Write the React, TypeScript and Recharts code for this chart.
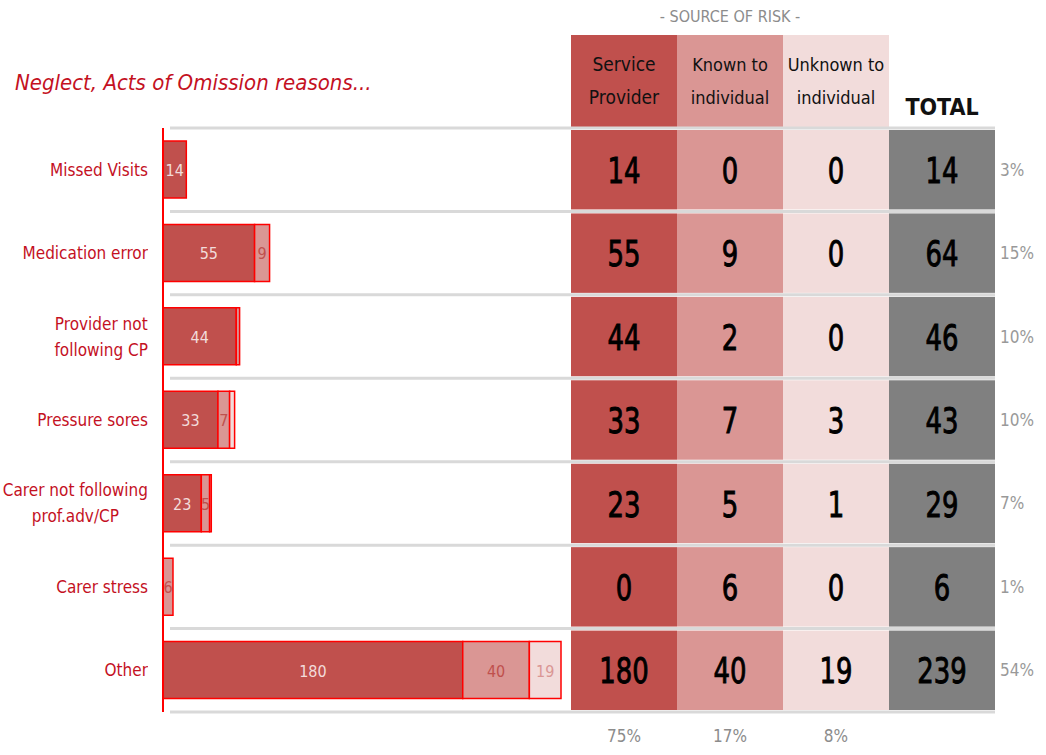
import React from "react";
import { BarChart, Bar, XAxis, YAxis, LabelList } from "recharts";

// reasons (rows)
const categories = [
  "Missed Visits",
  "Medication error",
  "Provider not\nfollowing CP",
  "Pressure sores",
  "Carer not following\nprof.adv/CP",
  "Carer stress",
  "Other",
];
const serviceProvider = [14, 55, 44, 33, 23, 0, 180];
const knownToIndividual = [0, 9, 2, 7, 5, 6, 40];
const unknownToIndividual = [0, 0, 0, 3, 1, 0, 19];
const rowShare = ["3%", "15%", "10%", "10%", "7%", "1%", "54%"];
const columnShare = ["75%", "17%", "8%"];
const columnHeaders = [
  ["Service", "Provider"],
  ["Known to", "individual"],
  ["Unknown to", "individual"],
];

const data = categories.map((name, i) => ({
  name,
  sp: serviceProvider[i],
  known: knownToIndividual[i],
  unknown: unknownToIndividual[i],
  total: serviceProvider[i] + knownToIndividual[i] + unknownToIndividual[i],
}));

const FONT = "'Liberation Sans Narrow', 'DejaVu Sans Condensed', sans-serif";
const DARK = "#c0504d";
const MID = "#da9694";
const LIGHT = "#f2dcdb";
const GREY = "#808080";
const RED = "#c4111f";
const SEP = "#d9d9d9";

const TOP = 128;
const BOTTOM = 712;
const BAND = (BOTTOM - TOP) / categories.length;
const COLS = [571, 677, 783, 889, 995];
const cellFills = [DARK, MID, LIGHT, GREY];

const CategoryTick = (props: any) => {
  const { y, payload } = props;
  const lines = String(payload.value).split("\n");
  return (
    <foreignObject x={0} y={y - 40} width={148} height={80}>
      <div
        style={{
          height: 80,
          display: "flex",
          alignItems: "center",
          justifyContent: "flex-end",
          fontFamily: FONT,
          fontSize: 17,
          lineHeight: "26px",
          color: RED,
        }}
      >
        <div style={{ textAlign: "center" }}>
          {lines.map((l, i) => (
            <div key={i}>{l}</div>
          ))}
        </div>
      </div>
    </foreignObject>
  );
};

const RowTick = (props: any) => {
  const { y, index } = props;
  const row = data[index];
  if (!row) return null;
  const vals = [row.sp, row.known, row.unknown, row.total];
  const top = y - BAND / 2;
  return (
    <g>
      {vals.map((v, c) => {
        const cx = (COLS[c] + COLS[c + 1]) / 2;
        return (
          <g key={c}>
            <rect x={COLS[c]} y={top + 2} width={COLS[c + 1] - COLS[c]} height={BAND - 4} fill={cellFills[c]} />
            <text
              x={0}
              y={0}
              transform={`translate(${cx},${y + 1}) scale(0.8,1)`}
              textAnchor="middle"
              dominantBaseline="central"
              fontFamily={FONT}
              fontSize={36}
              fill="#000"
              stroke="#000"
              strokeWidth={0.9}
            >
              {v}
            </text>
          </g>
        );
      })}
      <text x={1000} y={y} dominantBaseline="central" fontFamily={FONT} fontSize={17} fill="#999">
        {rowShare[index]}
      </text>
      <line x1={170} x2={995} y1={top} y2={top} stroke={SEP} strokeWidth={3} />
      {index === categories.length - 1 && (
        <line x1={170} x2={995} y1={top + BAND} y2={top + BAND} stroke={SEP} strokeWidth={3} />
      )}
    </g>
  );
};

const barLabel = (color: string) => (props: any) => {
  const { x, y, width, height, value } = props;
  if (!value || width < 8) return null;
  return (
    <text
      x={x + width / 2}
      y={y + height / 2 + 1}
      textAnchor="middle"
      dominantBaseline="central"
      fontFamily={FONT}
      fontSize={16}
      fill={color}
    >
      {value}
    </text>
  );
};

export default function App() {
  return (
    <div style={{ position: "absolute", left: 0, top: 0, width: 1046, height: 755, background: "#fff", fontFamily: FONT }}>
      <div
        style={{
          position: "absolute",
          left: 15,
          top: 70,
          fontSize: 22,
          fontStyle: "italic",
          color: RED,
          whiteSpace: "nowrap",
        }}
      >
        Neglect, Acts of Omission reasons...
      </div>
      <div
        style={{
          position: "absolute",
          left: COLS[0],
          width: COLS[3] - COLS[0],
          top: 7,
          textAlign: "center",
          fontSize: 16,
          color: "#8c8c8c",
        }}
      >
        - SOURCE OF RISK -
      </div>
      {columnHeaders.map((h, c) => (
        <div
          key={c}
          style={{
            position: "absolute",
            left: COLS[c],
            width: COLS[c + 1] - COLS[c],
            top: 35,
            height: 92,
            background: cellFills[c],
            display: "flex",
            flexDirection: "column",
            justifyContent: "center",
            alignItems: "center",
            fontSize: c === 0 ? 19 : 18,
            lineHeight: "33px",
            color: "#111",
          }}
        >
          {h.map((l, i) => (
            <div key={i}>{l}</div>
          ))}
        </div>
      ))}
      <div
        style={{
          position: "absolute",
          left: COLS[3],
          width: COLS[4] - COLS[3],
          top: 94,
          textAlign: "center",
          fontSize: 23,
          fontWeight: "bold",
          color: "#111",
        }}
      >
        TOTAL
      </div>
      {columnShare.map((p, c) => (
        <div
          key={c}
          style={{
            position: "absolute",
            left: COLS[c],
            width: COLS[c + 1] - COLS[c],
            top: 726,
            textAlign: "center",
            fontSize: 17,
            color: "#8c8c8c",
          }}
        >
          {p}
        </div>
      ))}
      <div style={{ position: "absolute", left: 0, top: 0 }}>
        <BarChart
          width={1046}
          height={755}
          layout="vertical"
          data={data}
          margin={{ top: TOP, bottom: 755 - BOTTOM, left: 0, right: 0 }}
        >
          <XAxis type="number" domain={[0, "dataMax"]} hide />
          <YAxis
            yAxisId="l"
            type="category"
            dataKey="name"
            width={163}
            axisLine={{ stroke: "#ff0000", strokeWidth: 2 }}
            tickLine={false}
            tick={<CategoryTick />}
            interval={0}
          />
          <YAxis
            yAxisId="r"
            orientation="right"
            type="category"
            dataKey="name"
            width={485}
            axisLine={false}
            tickLine={false}
            tick={<RowTick />}
            interval={0}
          />
          <Bar dataKey="sp" stackId="a" yAxisId="l" barSize={57} fill={DARK} stroke="#ff0000" strokeWidth={1.5} isAnimationActive={false}>
            <LabelList dataKey="sp" content={barLabel(LIGHT)} />
          </Bar>
          <Bar dataKey="known" stackId="a" yAxisId="l" barSize={57} fill={MID} stroke="#ff0000" strokeWidth={1.5} isAnimationActive={false}>
            <LabelList dataKey="known" content={barLabel(DARK)} />
          </Bar>
          <Bar dataKey="unknown" stackId="a" yAxisId="l" barSize={57} fill={LIGHT} stroke="#ff0000" strokeWidth={1.5} isAnimationActive={false}>
            <LabelList dataKey="unknown" content={barLabel(MID)} />
          </Bar>
        </BarChart>
      </div>
    </div>
  );
}
